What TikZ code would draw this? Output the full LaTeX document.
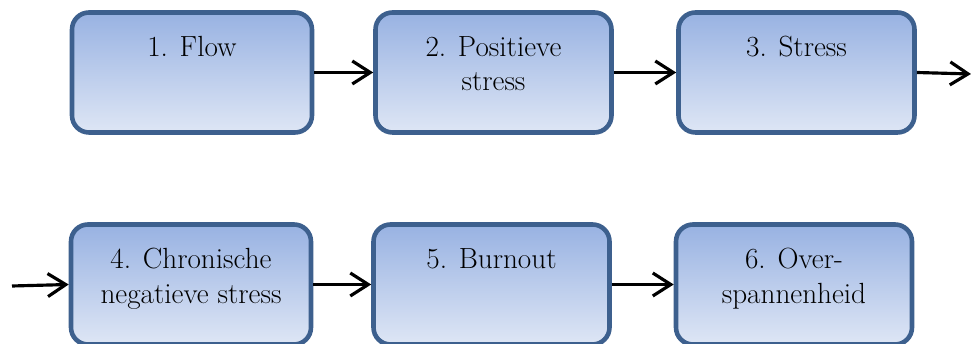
\documentclass[tikz,border=0pt]{standalone}
\usetikzlibrary{arrows.meta,positioning}
\definecolor{randblauw}{RGB}{61,96,142}
\definecolor{boven}{RGB}{152,178,226}
\definecolor{onder}{RGB}{222,230,245}
\tikzset{
	stap/.style={draw=randblauw, line width=2.6pt, rounded corners=0.34cm, top color=boven, bottom color=onder, minimum width=4.72cm, minimum height=2.4cm, inner sep=0pt},
	tekst/.style={align=center, inner sep=0pt, font=\fontsize{16.6}{19.4}\selectfont},
	pijl/.style={line width=1.8pt, -{Straight Barb[length=3.6mm,width=4.6mm]}}
}

\begin{document}
\begin{tikzpicture}
				\useasboundingbox (0,0) rectangle (19.42,6.88);
				
				\node[stap, minimum width=4.8cm] (flow) at (3.84,5.43) {};
				\node[stap] (positief) at (9.87,5.43) {};
				\node[stap] (stress) at (15.93,5.43) {};
				\node[stap, minimum width=4.8cm] (chronisch) at (3.82,1.19) {};
				\node[stap] (burnout) at (9.83,1.19) {};
				\node[stap] (overspannen) at (15.88,1.19) {};
				
				\node[tekst, below=0.52cm of flow.north] (flowtxt) {1. Flow};
				\node[tekst, below=0.52cm of positief.north] (positieftxt) {2. Positieve\\stress};
				\node[tekst, below=0.52cm of stress.north] (stresstxt) {3. Stress};
				\node[tekst, below=0.52cm of chronisch.north] (chronischtxt) {4. Chronische\\negatieve stress};
				\node[tekst, below=0.52cm of burnout.north] (burnouttxt) {5. Burnout};
				\node[tekst, below=0.52cm of overspannen.north] (overspannentxt) {6. Over-\\spannenheid};
				
				\coordinate (uit) at (19.42,5.40);
				\coordinate (in) at (0.24,1.16);
				
				\draw[pijl] (flow.east) -- (positief.west);
				\draw[pijl] (positief.east) -- (stress.west);
				\draw[pijl] (stress.east) -- (uit);
				\draw[pijl] (in) -- (chronisch.west);
				\draw[pijl] (chronisch.east) -- (burnout.west);
				\draw[pijl] (burnout.east) -- (overspannen.west);
\end{tikzpicture}
\end{document}
